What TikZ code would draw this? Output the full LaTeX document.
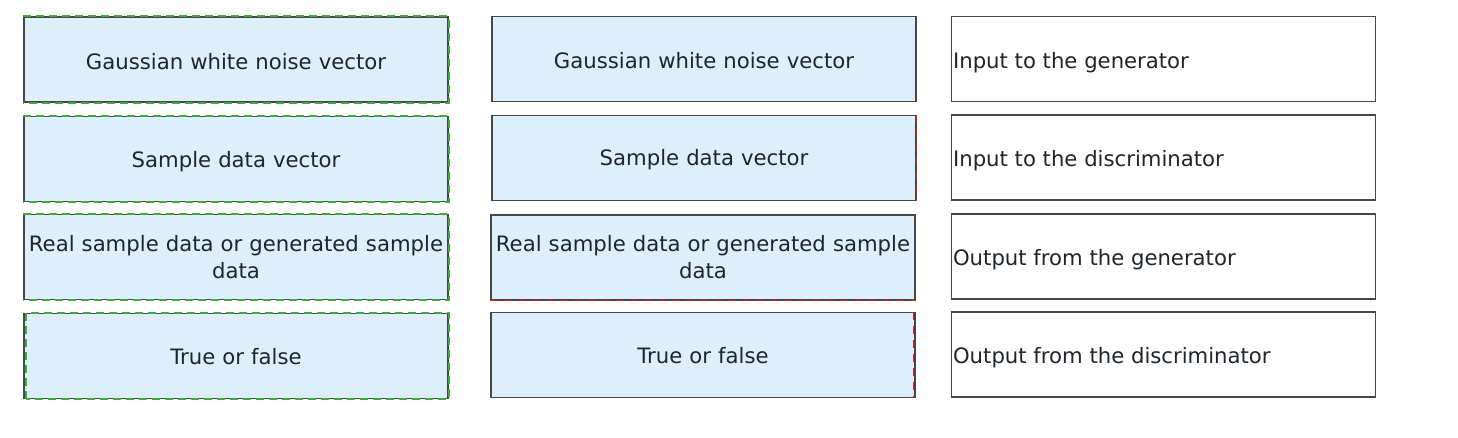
\documentclass[tikz,border=0pt]{standalone}
\usepackage{fontspec}
\setmainfont{DejaVu Sans}
\definecolor{boxfill}{HTML}{DEEFFC}
\definecolor{boxline}{HTML}{474747}
\definecolor{txt}{HTML}{1E252B}
\definecolor{gdash}{HTML}{3DAA3A}
\definecolor{rdash}{HTML}{E81818}
\newcommand{\boxfont}{\fontsize{21.2}{27}\selectfont}
\tikzset{
  base/.style={draw=boxline, line width=1.3pt, minimum width=424pt, minimum height=85pt, inner sep=0pt},
  bluebox/.style={base, fill=boxfill},
  whitebox/.style={base, fill=white},
  ctext/.style={text=txt, font=\boxfont, inner sep=0pt, align=center, text width=424pt},
  rtext/.style={anchor=west, text=txt, font=\boxfont, inner sep=0pt},
  greendash/.style={draw=gdash, line width=1.8pt, dash pattern=on 8pt off 5pt},
  reddash/.style={draw=rdash, line width=1.6pt, dash pattern=on 8pt off 6pt},
}
\begin{document}
\begin{tikzpicture}[x=1pt,y=-1pt]
\useasboundingbox (0,0) rectangle (1458,437);
% left column
\node[bluebox] (l1) at (236,59.5) {};
\node[bluebox] (l2) at (236,159) {};
\node[bluebox] (l3) at (236,257) {};
\node[bluebox] (l4) at (236,356) {};
\node[ctext] (lt1) at ([yshift=-2.5pt]l1.center) {Gaussian white noise vector};
\node[ctext] (lt2) at ([yshift=-3pt]l2.center) {Sample data vector};
\node[ctext] (lt3) at ([yshift=-0.5pt]l3.center) {Real sample data or generated sample\\data};
\node[ctext] (lt4) at ([yshift=-1pt]l4.center) {True or false};
% green dashed overlays
\draw[greendash] (l1.north west) -- (l1.north east) -- (l1.south east) -- (l1.south west);
\draw[greendash] (l2.north west) -- (l2.north east) -- (l2.south east) -- (l2.south west);
\draw[greendash] (l3.north west) -- (l3.north east) -- (l3.south east) -- (l3.south west);
\draw[greendash] ([xshift=3pt]l4.south west) -- ([xshift=3pt]l4.north west) -- (l4.north east) -- (l4.south east) -- ([xshift=3pt]l4.south west);
% middle column
\node[bluebox] (m1) at (704,59) {};
\node[bluebox] (m2) at (704,158) {};
\node[bluebox] (m3) at (703,257.5) {};
\node[bluebox] (m4) at (703,355) {};
\node[ctext] (mt1) at ([yshift=-2pt]m1.center) {Gaussian white noise vector};
\node[ctext] (mt2) at ([yshift=-2pt]m2.center) {Sample data vector};
\node[ctext] (mt3) at ([yshift=0pt]m3.center) {Real sample data or generated sample\\data};
\node[ctext] (mt4) at ([yshift=-1pt]m4.center) {True or false};
\draw[reddash] (m2.north east) -- (m2.south east);
\draw[reddash] (m3.south west) -- (m3.south east);
\draw[reddash] ([xshift=-2pt]m4.north east) -- ([xshift=-2pt]m4.south east);
% right column
\node[whitebox] (r1) at (1163.5,59) {};
\node[whitebox] (r2) at (1163.5,157.5) {};
\node[whitebox] (r3) at (1163.5,256.5) {};
\node[whitebox] (r4) at (1163.5,354.5) {};
\node[rtext] (t1) at ([xshift=2pt,yshift=-3.5pt]r1.west) {Input to the generator};
\node[rtext] (t2) at ([xshift=2pt,yshift=-3.5pt]r2.west) {Input to the discriminator};
\node[rtext] (t3) at ([xshift=2pt,yshift=-3.5pt]r3.west) {Output from the generator};
\node[rtext] (t4) at ([xshift=2pt,yshift=-3.5pt]r4.west) {Output from the discriminator};
\end{tikzpicture}
\end{document}
